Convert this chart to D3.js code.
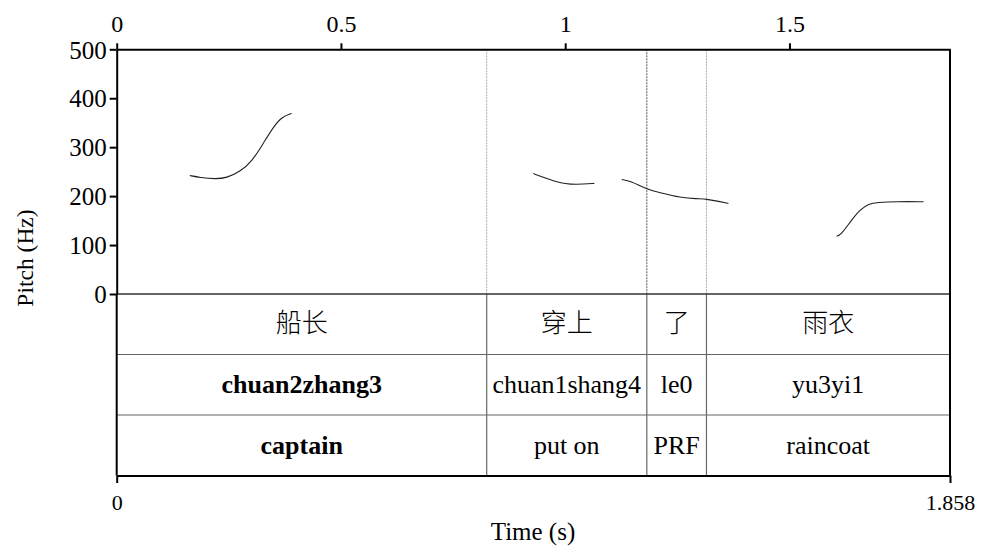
<!DOCTYPE html>
<html>
<head>
<meta charset="utf-8">
<script src="https://cdn.jsdelivr.net/npm/d3@7"></script>
<style>
  body { margin: 0; background: #fff; }
  text { font-family: "Liberation Serif", "Times New Roman", serif; fill: #000; }
  .cjk { font-family: "Noto Sans CJK SC", sans-serif; font-weight: 300; }
</style>
</head>
<body>
<div id="chart"></div>
<script>
// Pitch contours: [time (s), pitch (Hz)]
var contour1 = [[0.163, 242], [0.186, 238], [0.219, 235], [0.245, 237], [0.275, 250], [0.301, 270],
                [0.327, 308], [0.349, 341], [0.368, 362], [0.390, 369]];
var contour2 = [[0.929, 246], [0.959, 236], [0.989, 227], [1.011, 224], [1.041, 224.5], [1.065, 226]];
var contour3 = [[1.126, 234], [1.145, 231], [1.182, 214], [1.212, 207], [1.257, 197], [1.294, 194.5],
                [1.316, 194], [1.338, 190], [1.364, 185]];
var contour4 = [[1.605, 118], [1.614, 120], [1.636, 148], [1.658, 173], [1.677, 184], [1.695, 187],
                [1.740, 189], [1.799, 188.5]];

// word boundaries (s)
var boundaries = [0.825, 1.182, 1.315];
var hanzi = ["船长", "穿上", "了", "雨衣"];
var pinyin = ["chuan2zhang3", "chuan1shang4", "le0", "yu3yi1"];
var gloss = ["captain", "put on", "PRF", "raincoat"];
var topTicks = [0, 0.5, 1, 1.5];
var pitchTicks = [0, 100, 200, 300, 400, 500];
var duration = 1.858;

var width = 982, height = 547;
var margin = { left: 116.7, right: 32, top: 49.3 };
var plotBottom = 294, rowH = 60.5;

var svg = d3.select("#chart").append("svg")
    .attr("width", width)
    .attr("height", height);

var x = d3.scaleLinear().domain([0, duration]).range([margin.left, width - margin.right]);
var y = d3.scaleLinear().domain([0, 500]).range([plotBottom, margin.top]);
var tableBottom = plotBottom + rowH * 3;

// word boundaries in the pitch panel (dotted)
svg.selectAll(".bnd")
    .data(boundaries)
    .enter().append("line")
    .attr("x1", d => x(d)).attr("x2", d => x(d))
    .attr("y1", margin.top).attr("y2", plotBottom)
    .attr("stroke", (d, i) => i == 1 ? "#555" : "#aaa")
    .attr("stroke-width", 1)
    .attr("stroke-dasharray", "2,1");

// boundaries in the table (solid)
svg.selectAll(".tbnd")
    .data(boundaries)
    .enter().append("line")
    .attr("x1", d => x(d)).attr("x2", d => x(d))
    .attr("y1", plotBottom).attr("y2", tableBottom)
    .attr("stroke", "#666")
    .attr("stroke-width", 1.2);

// row lines
svg.selectAll(".row")
    .data([1, 2])
    .enter().append("line")
    .attr("x1", x(0)).attr("x2", x(duration))
    .attr("y1", d => plotBottom + rowH * d).attr("y2", d => plotBottom + rowH * d)
    .attr("stroke", "#666")
    .attr("stroke-width", 1.2);

// zero line
svg.append("line")
    .attr("x1", x(0)).attr("x2", x(duration))
    .attr("y1", plotBottom).attr("y2", plotBottom)
    .attr("stroke", "#333").attr("stroke-width", 1.5);

// pitch curves
var line = d3.line()
    .x(d => x(d[0]))
    .y(d => y(d[1]))
    .curve(d3.curveBasis);

svg.selectAll(".contour")
    .data([contour1, contour2, contour3, contour4])
    .enter().append("path")
    .attr("d", line)
    .attr("fill", "none")
    .attr("stroke", "#222")
    .attr("stroke-width", 1.1);

// top axis
var topAxis = svg.append("g")
    .attr("transform", "translate(0," + margin.top + ")")
    .call(d3.axisTop(x).tickValues(topTicks).tickFormat(d3.format("")).tickSizeInner(6).tickSizeOuter(0));

// left axis
var leftAxis = svg.append("g")
    .attr("transform", "translate(" + margin.left + ",0)")
    .call(d3.axisLeft(y).tickValues(pitchTicks).tickSizeInner(7).tickSizeOuter(0));

// bottom axis
var bottomAxis = svg.append("g")
    .attr("transform", "translate(0," + tableBottom + ")")
    .call(d3.axisBottom(x).tickValues([0, duration]).tickFormat(d3.format("")).tickSizeInner(7.5).tickSizeOuter(0));

[topAxis, leftAxis, bottomAxis].forEach(function (g) {
    g.selectAll("path.domain").attr("stroke", "#000").attr("stroke-width", 2);
    g.selectAll(".tick line").attr("stroke", "#000").attr("stroke-width", 2);
    g.selectAll(".tick text")
        .style("font-family", "Liberation Serif")
        .attr("fill", "#000");
});
topAxis.selectAll(".tick text").attr("dy", 0).attr("y", -17).style("font-size", "24px");
leftAxis.selectAll(".tick text").attr("x", -10).attr("dy", "0.35em").style("font-size", "25px");
bottomAxis.selectAll(".tick text").attr("dy", 0).attr("y", 34).style("font-size", "22px");

// left border through the table
svg.append("line")
    .attr("x1", x(0)).attr("x2", x(0))
    .attr("y1", plotBottom).attr("y2", tableBottom)
    .attr("stroke", "#000").attr("stroke-width", 2);

// right border
svg.append("line")
    .attr("x1", x(duration)).attr("x2", x(duration))
    .attr("y1", margin.top).attr("y2", tableBottom)
    .attr("stroke", "#000").attr("stroke-width", 2);

// table text
var cells = d3.range(4).map(function (i) {
    var a = i == 0 ? 0 : boundaries[i - 1];
    var b = i == 3 ? duration : boundaries[i];
    return { cx: (x(a) + x(b)) / 2, i: i };
});

svg.selectAll(".hz")
    .data(cells)
    .enter().append("text")
    .attr("class", "cjk")
    .attr("x", d => d.cx)
    .attr("y", plotBottom + 38)
    .attr("text-anchor", "middle")
    .style("font-size", "26px")
    .text(d => hanzi[d.i]);

svg.selectAll(".py")
    .data(cells)
    .enter().append("text")
    .attr("x", d => d.cx)
    .attr("y", 393)
    .attr("text-anchor", "middle")
    .style("font-size", "26px")
    .style("font-weight", d => d.i == 0 ? "bold" : "normal")
    .text(d => pinyin[d.i]);

svg.selectAll(".gl")
    .data(cells)
    .enter().append("text")
    .attr("x", d => d.cx)
    .attr("y", 454)
    .attr("text-anchor", "middle")
    .style("font-size", "26px")
    .style("font-weight", d => d.i == 0 ? "bold" : "normal")
    .text(d => gloss[d.i]);

// axis titles
svg.append("text")
    .attr("transform", "translate(33,258) rotate(-90)")
    .attr("text-anchor", "middle")
    .style("font-size", "23.5px")
    .text("Pitch (Hz)");

svg.append("text")
    .attr("x", 533)
    .attr("y", 540)
    .attr("text-anchor", "middle")
    .style("font-size", "25px")
    .text("Time (s)");
</script>
</body>
</html>
